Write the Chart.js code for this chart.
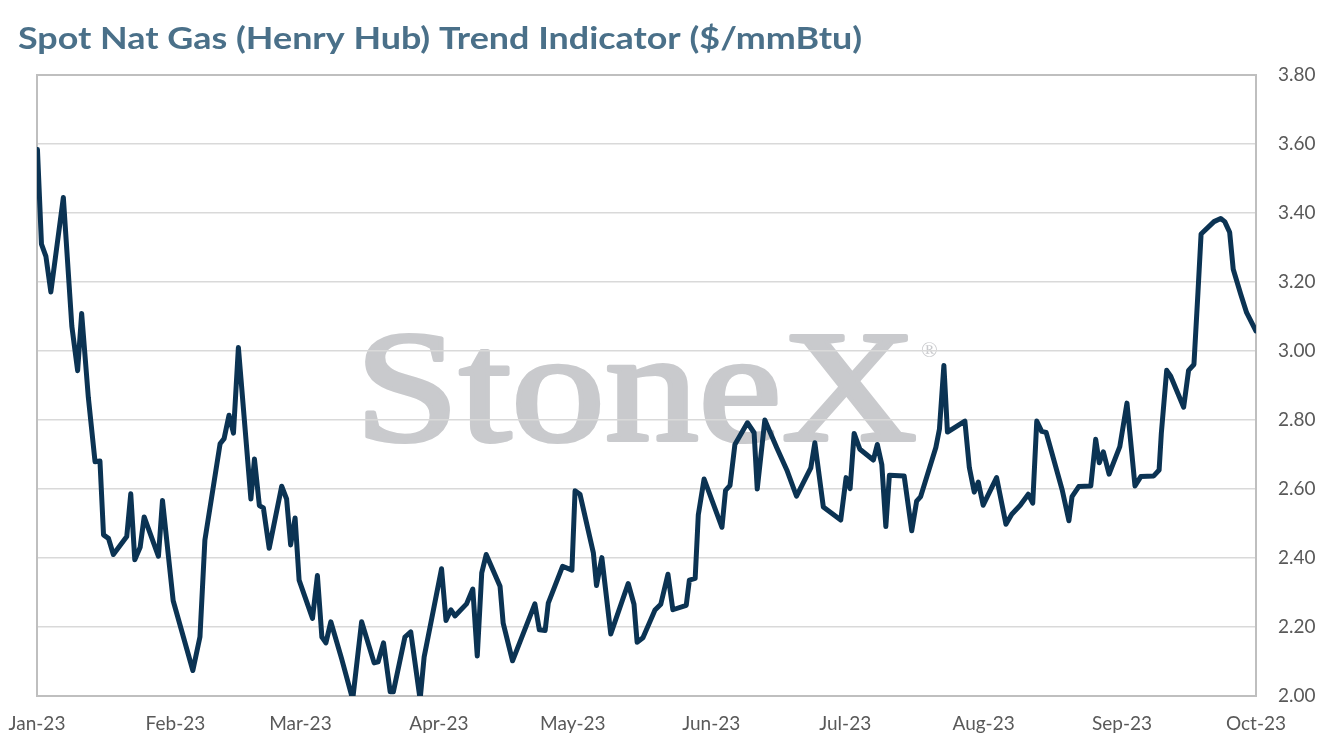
<!DOCTYPE html>
<html><head><meta charset="utf-8">
<script src="https://cdn.jsdelivr.net/npm/chart.js@4.4.0/dist/chart.umd.min.js"></script>
<style>html,body{margin:0;padding:0;background:#fff;} canvas{display:block;}</style>
</head><body>
<canvas id="c" width="1335" height="756"></canvas>
<script>
const titleText = 'Spot Nat Gas (Henry Hub) Trend Indicator ($/mmBtu)';
const watermarkText = 'StoneX';
const monthStartDays = [0, 31, 59, 90, 120, 151, 181, 212, 243, 273];
const monthLabels = ['Jan-23','Feb-23','Mar-23','Apr-23','May-23','Jun-23','Jul-23','Aug-23','Sep-23','Oct-23'];
const yTickValues = [2.0, 2.2, 2.4, 2.6, 2.8, 3.0, 3.2, 3.4, 3.6, 3.8];

// days since 1 Jan 2023
const dayOffsets = [
 0.1,1.0,2.0,3.1,5.9,7.8,9.1,10.0,11.5,13.0,14.1,14.9,16.0,17.1,20.1,21.0,21.9,23.1,24.0,27.2,28.1,30.5,34.9,36.5,37.6,41.0,41.9,43.0,44.0,45.1,
 47.9,48.7,49.8,50.7,52.0,54.8,55.9,56.8,57.8,58.7,61.7,62.8,63.8,64.7,65.8,68.2,70.7,72.7,75.5,76.4,77.6,79.1,79.8,82.4,83.7,85.8,86.7,
 90.6,91.6,92.7,93.6,96.2,97.6,98.6,99.6,100.6,103.7,104.4,106.5,111.5,112.5,113.8,114.5,117.7,119.8,120.5,121.6,124.6,125.3,126.5,128.5,132.4,
 133.7,134.4,135.7,138.4,139.7,141.3,142.4,145.4,146.1,147.4,148.1,149.4,153.4,154.2,155.2,156.3,159.1,160.6,161.3,163.0,165.7,167.9,170.1,173.3,174.2,176.1,180.0,
 181.2,182.1,183.0,184.3,187.3,188.2,189.2,190.1,190.9,194.2,195.9,197.0,197.9,201.3,202.1,203.1,203.9,207.8,208.8,209.9,210.8,211.9,214.9,217.0,218.3,220.2,222.0,223.0,223.9,
 225.0,226.0,229.6,231.1,231.8,233.3,236.0,237.1,237.9,238.8,240.1,242.5,244.1,245.9,247.2,250.1,251.3,251.8,253.0,253.9,256.8,257.9,259.1,260.0,260.7,263.6,265.1,266.0,267.1,267.9,269.6,270.9,273.0
];
// $/mmBtu
const spotPrices = [
 3.584,3.310,3.274,3.171,3.445,3.072,2.943,3.109,2.865,2.679,2.681,2.467,2.457,2.410,2.462,2.586,2.395,2.431,2.519,2.405,2.567,2.276,2.074,2.172,2.452,2.731,2.746,2.814,2.762,3.010,
 2.571,2.687,2.552,2.545,2.428,2.608,2.571,2.438,2.516,2.336,2.225,2.349,2.171,2.154,2.215,2.109,1.990,2.215,2.096,2.099,2.154,2.012,2.012,2.171,2.186,1.990,2.113,
 2.369,2.219,2.250,2.232,2.267,2.310,2.116,2.357,2.410,2.318,2.211,2.102,2.267,2.192,2.190,2.269,2.376,2.365,2.595,2.585,2.415,2.320,2.401,2.180,2.326,
 2.266,2.156,2.169,2.249,2.266,2.353,2.250,2.263,2.336,2.341,2.525,2.629,2.489,2.596,2.610,2.729,2.792,2.763,2.600,2.800,2.719,2.656,2.579,2.661,2.734,2.548,2.510,
 2.633,2.601,2.761,2.715,2.684,2.729,2.671,2.491,2.640,2.638,2.479,2.565,2.578,2.720,2.773,2.958,2.765,2.797,2.662,2.591,2.620,2.553,2.633,2.498,2.527,2.553,2.585,2.559,2.797,
 2.767,2.764,2.597,2.508,2.578,2.607,2.609,2.744,2.676,2.708,2.643,2.723,2.849,2.609,2.636,2.638,2.655,2.762,2.944,2.927,2.837,2.944,2.961,3.169,3.339,3.375,3.384,3.375,3.344,3.237,3.164,3.111,3.058
];

const points = dayOffsets.map((d, i) => ({ x: d, y: spotPrices[i] }));

const decor = {
  id: 'decor',
  beforeDraw(chart) {
    const ctx = chart.ctx;
    // title
    ctx.save();
    ctx.fillStyle = '#4a7089';
    ctx.font = 'bold 30px Lato';
    ctx.textBaseline = 'alphabetic';
    const tw = ctx.measureText(titleText).width;
    ctx.translate(18, 49);
    ctx.scale(844 / tw, 1);
    ctx.fillText(titleText, 0, 0);
    ctx.restore();
    // watermark
    ctx.save();
    ctx.fillStyle = '#c9cacd';
    ctx.strokeStyle = '#c9cacd';
    ctx.lineWidth = 4;
    ctx.lineJoin = 'round';
    ctx.font = '158px "Liberation Serif"';
    ctx.textBaseline = 'alphabetic';
    const ww = ctx.measureText(watermarkText).width;
    ctx.translate(355, 440);
    ctx.scale(562 / ww, 1);
    ctx.fillText(watermarkText, 0, 0);
    ctx.strokeText(watermarkText, 0, 0);
    ctx.restore();
    ctx.save();
    ctx.fillStyle = '#c9cacd';
    ctx.font = '22px "Liberation Serif"';
    ctx.fillText('\u00AE', 921, 357);
    ctx.restore();
  },
  beforeDatasetsDraw(chart) {
    const { ctx, chartArea: a } = chart;
    ctx.save();
    ctx.strokeStyle = '#bfbfbf';
    ctx.lineWidth = 2;
    ctx.strokeRect(a.left, a.top, a.right - a.left, a.bottom - a.top);
    ctx.restore();
  }
};

new Chart(document.getElementById('c'), {
  type: 'line',
  data: {
    datasets: [{
      data: points,
      borderColor: '#0b3353',
      borderWidth: 5,
      pointRadius: 0,
      tension: 0,
      fill: false,
      borderJoinStyle: 'round',
      borderCapStyle: 'round'
    }]
  },
  options: {
    responsive: false,
    animation: false,
    layout: { padding: { top: 75, left: 37, right: 0, bottom: 0 } },
    plugins: { legend: { display: false }, tooltip: { enabled: false } },
    scales: {
      x: {
        type: 'linear',
        min: monthStartDays[0],
        max: monthStartDays[monthStartDays.length - 1],
        grid: { display: false, drawTicks: false },
        border: { display: false },
        afterBuildTicks(scale) { scale.ticks = monthStartDays.map(v => ({ value: v })); },
        afterFit(scale) { scale.height = 60; scale.paddingLeft = 0; scale.paddingRight = 0; },
        ticks: {
          autoSkip: false, maxRotation: 0, padding: 16,
          color: '#595959', font: { family: 'Lato', size: 19 },
          callback: (v, i) => monthLabels[i]
        }
      },
      y: {
        position: 'right',
        min: yTickValues[0],
        max: yTickValues[yTickValues.length - 1],
        afterBuildTicks(scale) { scale.ticks = yTickValues.map(v => ({ value: v })); },
        afterFit(scale) { scale.width = 79; scale.paddingTop = 0; scale.paddingBottom = 0; },
        grid: { color: '#d9d9d9', lineWidth: 1.5, drawTicks: false },
        border: { display: false },
        ticks: {
          padding: 22, color: '#595959', font: { family: 'Lato', size: 19 },
          callback: v => Number(v).toFixed(2)
        }
      }
    }
  },
  plugins: [decor]
});
</script>
</body></html>
